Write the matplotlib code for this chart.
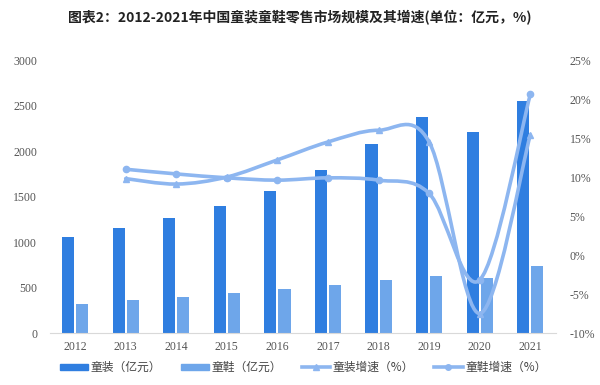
import matplotlib.pyplot as plt
import numpy as np
from matplotlib.path import Path
from matplotlib.patches import PathPatch
from matplotlib.lines import Line2D
from matplotlib.patches import Patch

plt.rcParams['font.family'] = ['Noto Sans CJK SC', 'DejaVu Sans']

# Data
years = ['2012', '2013', '2014', '2015', '2016', '2017', '2018', '2019', '2020', '2021']
clothes = [1058, 1157, 1260, 1396, 1564, 1791, 2077, 2377, 2212, 2553]   # 童装 (亿元)
shoes = [319, 363, 399, 436, 484, 527, 582, 626, 608, 736]              # 童鞋 (亿元)
growth_years = years[1:]
clothes_growth = [9.8, 9.1, 10.0, 12.2, 14.5, 16.0, 14.5, -7.5, 15.4]  # 童装增速 (%)
shoes_growth = [11.0, 10.4, 9.9, 9.6, 9.9, 9.6, 7.9, -3.2, 20.6]       # 童鞋增速 (%)

c_dark = '#2F7EE0'
c_light = '#6EA6EA'
c_line = '#8DB6F0'
c_tick = '#555555'


def smooth_path(xs, ys):
    # Excel-style smoothed line: Catmull-Rom segments as cubic Bezier curves
    pts = np.column_stack([xs, ys]).astype(float)
    n = len(pts)
    verts = [pts[0]]
    codes = [Path.MOVETO]
    for i in range(n - 1):
        p0 = pts[i - 1] if i > 0 else pts[i]
        p1 = pts[i]
        p2 = pts[i + 1]
        p3 = pts[i + 2] if i + 2 < n else pts[i + 1]
        verts += [p1 + (p2 - p0) / 6, p2 - (p3 - p1) / 6, p2]
        codes += [Path.CURVE4] * 3
    return Path(verts, codes)


fig = plt.figure(figsize=(6, 3.85), dpi=100)
fig.patch.set_facecolor('white')
ax = fig.add_axes([0.083, 0.135, 0.843, 0.709])
ax2 = ax.twinx()

x = np.arange(len(years))
ax.bar(x - 0.14, clothes, width=0.24, color=c_dark, zorder=2)
ax.bar(x + 0.14, shoes, width=0.24, color=c_light, zorder=2)

ax.set_xlim(-0.5, len(years) - 0.5)
ax.set_ylim(0, 3000)
ax.set_yticks(range(0, 3001, 500))
ax.set_xticks(x)
ax.set_xticklabels(years)

gx = np.arange(1, len(years))
for vals, mk, ms in [(clothes_growth, '^', 4.5), (shoes_growth, 'o', 4.5)]:
    ax2.add_patch(PathPatch(smooth_path(gx, vals), facecolor='none', edgecolor=c_line,
                            lw=2.6, capstyle='round', joinstyle='round', zorder=3))
    ax2.plot(gx, vals, linestyle='none', marker=mk, markersize=ms, color=c_line, zorder=4)
ax2.set_ylim(-10, 25)
ax2.set_yticks(range(-10, 26, 5))
ax2.set_yticklabels([f'{v}%' for v in range(-10, 26, 5)])

for a in (ax, ax2):
    for s in a.spines.values():
        s.set_visible(False)
    a.tick_params(length=0, labelsize=8.5, colors=c_tick)
    for lab in a.get_xticklabels() + a.get_yticklabels():
        lab.set_family('Liberation Serif')
ax.spines['bottom'].set_visible(True)
ax.spines['bottom'].set_color('#D9D9D9')
ax.tick_params(axis='x', pad=6)
ax.tick_params(axis='y', pad=9)
ax2.tick_params(axis='y', pad=10)
ax.set_zorder(1)
ax2.set_zorder(2)
ax2.patch.set_visible(False)

fig.text(0.5, 0.955, '图表2：2012-2021年中国童装童鞋零售市场规模及其增速(单位：亿元，%)',
         ha='center', va='center', fontsize=10, fontweight='bold', color='#222222')

handles = [Patch(color=c_dark), Patch(color=c_light),
           Line2D([], [], color=c_line, lw=2.6, marker='^', markersize=4),
           Line2D([], [], color=c_line, lw=2.6, marker='o', markersize=4)]
labels = ['童装（亿元）', '童鞋（亿元）', '童装增速（%）', '童鞋增速（%）']
fig.legend(handles, labels, loc='center', bbox_to_anchor=(0.505, 0.045), ncol=4,
           frameon=False, fontsize=8.5, handlelength=2.4, handleheight=0.45,
           columnspacing=1.7, handletextpad=0.2, labelcolor='#444444')

fig.savefig('out.png', dpi=100, facecolor='white')
